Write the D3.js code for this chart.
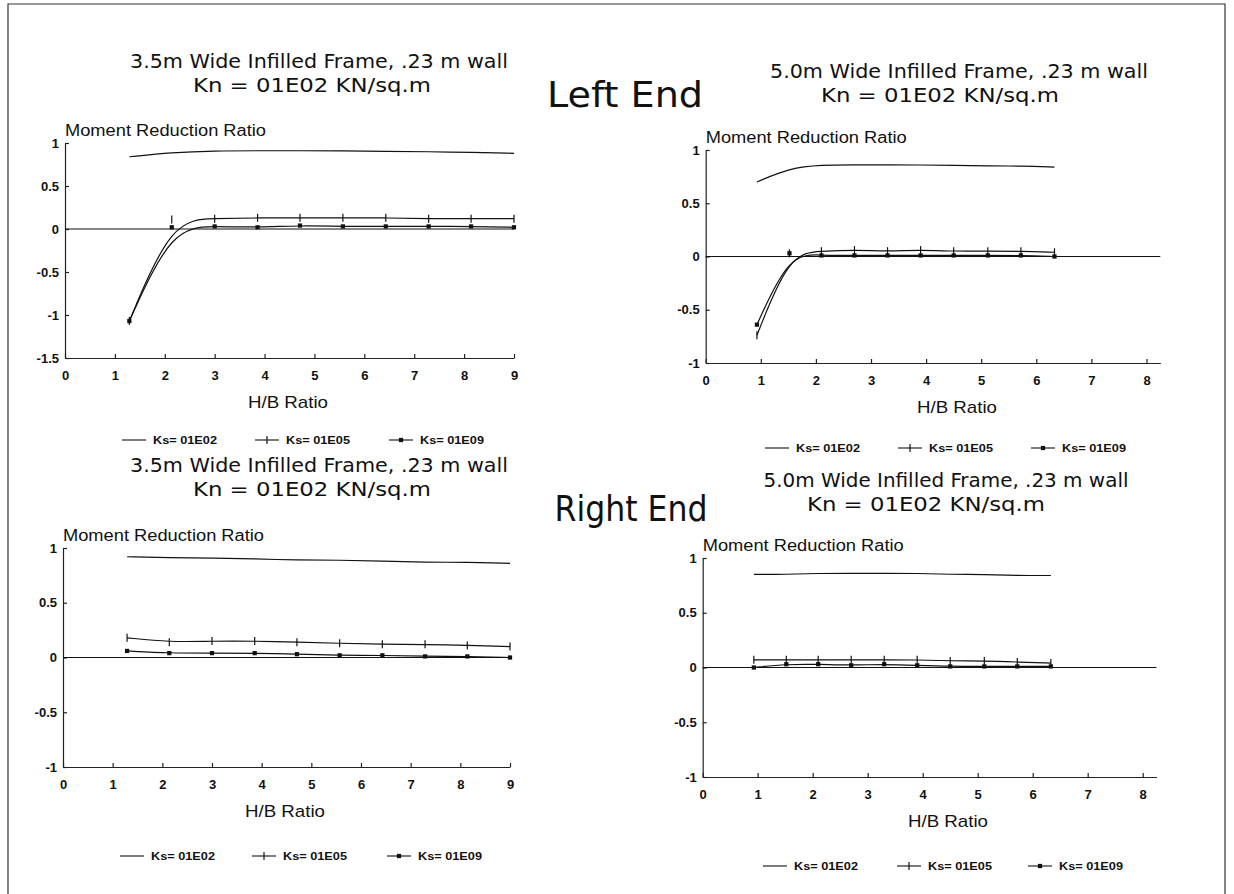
<!DOCTYPE html>
<html>
<head>
<meta charset="utf-8">
<script src="https://cdn.jsdelivr.net/npm/d3@7"></script>
<style>
  body { margin: 0; background: #fff; }
  svg { display: block; }
</style>
</head>
<body>
<svg id="chart" width="1234" height="894"></svg>
<script>
// H/B ratios of the two frame widths
const hbNarrow = [1.29, 2.14, 3.0, 3.86, 4.71, 5.57, 6.43, 7.29, 8.14, 9.0];
const hbWide = [0.93, 1.52, 2.1, 2.7, 3.3, 3.9, 4.5, 5.12, 5.72, 6.33];

// Left end, 3.5 m frame
const leftNarrow02 = [0.84, 0.89, 0.91, 0.91, 0.91, 0.91, 0.90, 0.90, 0.89, 0.88];
const leftNarrow05 = [-1.07, 0.11, 0.12, 0.13, 0.13, 0.13, 0.13, 0.12, 0.12, 0.12];
const leftNarrow09 = [-1.07, 0.02, 0.03, 0.02, 0.04, 0.03, 0.03, 0.03, 0.03, 0.02];

// Left end, 5.0 m frame
const leftWide02 = [0.70, 0.83, 0.86, 0.86, 0.86, 0.86, 0.855, 0.85, 0.85, 0.84];
const leftWide05 = [-0.74, 0.03, 0.05, 0.06, 0.05, 0.06, 0.05, 0.05, 0.05, 0.04];
const leftWide09 = [-0.64, 0.03, 0.01, 0.01, 0.01, 0.01, 0.01, 0.01, 0.01, 0.0];

// Right end, 3.5 m frame
const rightNarrow02 = [0.92, 0.91, 0.91, 0.90, 0.89, 0.89, 0.88, 0.87, 0.87, 0.86];
const rightNarrow05 = [0.18, 0.14, 0.15, 0.15, 0.14, 0.13, 0.12, 0.12, 0.11, 0.10];
const rightNarrow09 = [0.06, 0.04, 0.04, 0.04, 0.03, 0.02, 0.02, 0.01, 0.01, 0.0];

// Right end, 5.0 m frame
const rightWide02 = [0.85, 0.85, 0.86, 0.86, 0.86, 0.86, 0.85, 0.85, 0.84, 0.84];
const rightWide05 = [0.07, 0.07, 0.07, 0.07, 0.07, 0.07, 0.06, 0.06, 0.05, 0.04];
const rightWide09 = [0.0, 0.03, 0.03, 0.02, 0.03, 0.02, 0.01, 0.01, 0.01, 0.01];

const seriesNames = ["Ks= 01E02", "Ks= 01E05", "Ks= 01E09"];
const markerKinds = ["none", "plus", "square"];

const xTicksNarrow = [0, 1, 2, 3, 4, 5, 6, 7, 8, 9];
const xTicksWide = [0, 1, 2, 3, 4, 5, 6, 7, 8];
const yTicksDeep = [1, 0.5, 0, -0.5, -1, -1.5];
const yTicks = [1, 0.5, 0, -0.5, -1];

const titleNarrow = "3.5m Wide Infilled Frame, .23 m wall";
const titleWide = "5.0m Wide Infilled Frame, .23 m wall";
const subTitle = "Kn = 01E02 KN/sq.m";
const yLabel = "Moment Reduction Ratio";
const xLabel = "H/B Ratio";

const svg = d3.select("#chart");
const ink = "#111";
const sans = "'Liberation Sans', Arial, sans-serif";
const narrow = "'Liberation Sans Narrow', 'DejaVu Sans Condensed', 'Arial Narrow', sans-serif";

// page frame from the scan
svg.append("path")
    .attr("d", "M8,894V4H1225V894")
    .attr("fill", "none")
    .attr("stroke", "#333")
    .attr("stroke-width", 1.2);

function fmt(d) {
  return d < 0 ? "-" + Math.abs(d) : String(d);
}

function styleAxis(ax) {
  ax.selectAll(".tick line, .domain").attr("stroke", "#222").attr("stroke-width", 1.2);
  ax.selectAll("text")
      .attr("font-family", sans)
      .attr("font-weight", "bold")
      .attr("font-size", 13)
      .attr("fill", ink);
}

function drawPanel(p) {
  const x = d3.scaleLinear().domain([0, p.xMax]).range([p.left, p.right]);
  const y = d3.scaleLinear().domain([p.yMin, 1]).range([p.bottom, p.top]);
  const g = svg.append("g");

  g.append("g")
      .attr("transform", `translate(${p.left},0)`)
      .call(d3.axisLeft(y).tickValues(p.yTicks).tickSize(-4).tickSizeOuter(0).tickPadding(6).tickFormat(fmt))
      .call(styleAxis);

  g.append("g")
      .attr("transform", `translate(0,${p.bottom})`)
      .call(d3.axisBottom(x).tickValues(p.xTicks).tickSize(-4).tickSizeOuter(0).tickPadding(13).tickFormat(fmt))
      .call(styleAxis);

  // zero reference line
  g.append("line")
      .attr("x1", x(0)).attr("x2", x(p.xMax))
      .attr("y1", y(0)).attr("y2", y(0))
      .attr("stroke", ink).attr("stroke-width", 1.1);

  const line = d3.line()
      .x(d => x(d[0]))
      .y(d => y(d[1]))
      .curve(d3.curveBasis);

  p.series.forEach((vals, i) => {
    const pts = p.hb.map((h, k) => [h, vals[k]]);
    g.append("path")
        .datum(pts)
        .attr("d", line)
        .attr("fill", "none")
        .attr("stroke", ink)
        .attr("stroke-width", 1.2);
    drawMarkers(g, pts.map(d => [x(d[0]), y(d[1])]), markerKinds[i]);
  });

  g.append("text")
      .attr("x", p.left).attr("y", p.top - 7)
      .attr("font-family", sans).attr("font-size", 16)
      .attr("textLength", 201).attr("lengthAdjust", "spacingAndGlyphs")
      .attr("fill", ink)
      .text(yLabel);

  g.append("text")
      .attr("x", p.xLabelX).attr("y", p.bottom + 50)
      .attr("text-anchor", "middle")
      .attr("font-family", sans).attr("font-size", 17)
      .attr("textLength", 80).attr("lengthAdjust", "spacingAndGlyphs")
      .attr("fill", ink)
      .text(xLabel);

  // titles
  g.append("text")
      .attr("x", p.titleX).attr("y", p.titleY)
      .attr("text-anchor", "middle")
      .attr("font-family", narrow).attr("font-size", 20)
      .attr("textLength", p.titleW).attr("lengthAdjust", "spacingAndGlyphs")
      .attr("fill", ink)
      .text(p.title);
  g.append("text")
      .attr("x", p.subX).attr("y", p.titleY + 24)
      .attr("text-anchor", "middle")
      .attr("font-family", narrow).attr("font-size", 20)
      .attr("textLength", 238).attr("lengthAdjust", "spacingAndGlyphs")
      .attr("fill", ink)
      .text(subTitle);

  // legend
  p.legendX.forEach((lx, i) => {
    const ly = p.legendY;
    g.append("line")
        .attr("x1", lx).attr("x2", lx + 24)
        .attr("y1", ly).attr("y2", ly)
        .attr("stroke", ink).attr("stroke-width", 1.1);
    drawMarkers(g, [[lx + 12, ly]], markerKinds[i]);
    g.append("text")
        .attr("x", lx + 31).attr("y", ly + 4)
        .attr("font-family", sans).attr("font-weight", "bold").attr("font-size", 11)
        .attr("textLength", 64).attr("lengthAdjust", "spacingAndGlyphs")
        .attr("fill", ink)
        .text(seriesNames[i]);
  });
}

function drawMarkers(g, pts, kind) {
  if (kind === "plus") {
    g.selectAll(null).data(pts).enter().append("path")
        .attr("d", d => `M${d[0]},${d[1] - 4}V${d[1] + 4}`)
        .attr("stroke", ink).attr("stroke-width", 1.2);
  } else if (kind === "square") {
    g.selectAll(null).data(pts).enter().append("path")
        .attr("transform", d => `translate(${d[0]},${d[1]})`)
        .attr("d", d3.symbol(d3.symbolSquare, 18))
        .attr("fill", ink);
  }
}

drawPanel({
  hb: hbNarrow, series: [leftNarrow02, leftNarrow05, leftNarrow09],
  left: 65, right: 514, xMax: 9, top: 143, bottom: 358, yMin: -1.5,
  xTicks: xTicksNarrow, yTicks: yTicksDeep, xLabelX: 288,
  title: titleNarrow, titleX: 319, titleY: 68, titleW: 378, subX: 312,
  legendX: [122, 255, 389], legendY: 440
});

drawPanel({
  hb: hbWide, series: [leftWide02, leftWide05, leftWide09],
  left: 705.7, right: 705.7 + 8.25 * 55.1, xMax: 8.25, top: 150, bottom: 363, yMin: -1,
  xTicks: xTicksWide, yTicks: yTicks, xLabelX: 957,
  title: titleWide, titleX: 959, titleY: 78, titleW: 378, subX: 940,
  legendX: [765, 898, 1031], legendY: 448
});

drawPanel({
  hb: hbNarrow, series: [rightNarrow02, rightNarrow05, rightNarrow09],
  left: 63, right: 510, xMax: 9, top: 548, bottom: 767, yMin: -1,
  xTicks: xTicksNarrow, yTicks: yTicks, xLabelX: 285,
  title: titleNarrow, titleX: 319, titleY: 472, titleW: 378, subX: 312,
  legendX: [120, 252, 387], legendY: 856
});

drawPanel({
  hb: hbWide, series: [rightWide02, rightWide05, rightWide09],
  left: 702.7, right: 702.7 + 8.25 * 55, xMax: 8.25, top: 558, bottom: 777, yMin: -1,
  xTicks: xTicksWide, yTicks: yTicks, xLabelX: 948,
  title: titleWide, titleX: 946, titleY: 487, titleW: 365, subX: 926,
  legendX: [763, 897, 1028], legendY: 866
});

// section headings
svg.append("text")
    .attr("x", 625).attr("y", 107)
    .attr("text-anchor", "middle")
    .attr("font-family", narrow).attr("font-size", 35)
    .attr("textLength", 156).attr("lengthAdjust", "spacingAndGlyphs")
    .attr("fill", ink)
    .text("Left End");

svg.append("text")
    .attr("x", 631).attr("y", 521)
    .attr("text-anchor", "middle")
    .attr("font-family", narrow).attr("font-size", 35)
    .attr("textLength", 153).attr("lengthAdjust", "spacingAndGlyphs")
    .attr("fill", ink)
    .text("Right End");
</script>
</body>
</html>
